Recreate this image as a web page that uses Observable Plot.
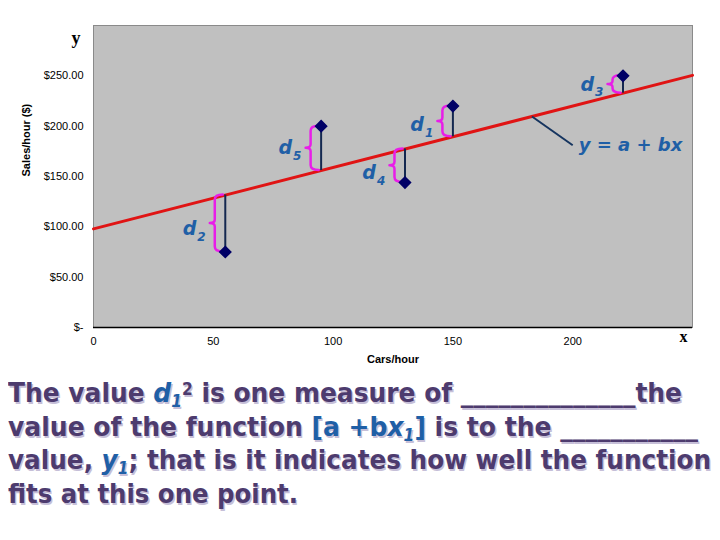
<!DOCTYPE html>
<html>
<head>
<meta charset="utf-8">
<script src="https://cdn.jsdelivr.net/npm/d3@7"></script>
<script src="https://cdn.jsdelivr.net/npm/@observablehq/plot@0.6"></script>
<style>
  html, body { margin: 0; padding: 0; background: #fff; }
  #wrap { position: relative; width: 720px; height: 540px; overflow: hidden; }
  #chart { position: absolute; left: 0; top: 0; }
  #caption { position: absolute; left: 8px; top: 376px; font-family: "DejaVu Sans", Verdana, sans-serif; font-weight: bold; font-size: 27px; color: #4d3b6e; text-shadow: 1.5px 1.5px 0 #c6bfd8; }
  .ln { white-space: nowrap; line-height: 33.5px; height: 33.5px; transform-origin: 0 50%; display: block; width: max-content; }
  .b { color: #1f5fa6; }
  .sb { font-size: 0.62em; position: relative; top: 0.32em; }
  .sp { font-size: 0.62em; position: relative; top: -0.42em; }
</style>
</head>
<body>
<div id="wrap">
  <div id="chart"></div>
  <div id="caption">
    <div class="ln">The value <span class="b"><i>d</i><i class="sb">1</i></span><span class="sp">2</span> is one measure of ______________the</div>
    <div class="ln">value of the function <span class="b">[a +b<i>x</i><i class="sb">1</i>]</span> is to the ___________</div>
    <div class="ln">value, <span class="b"><i>y</i><i class="sb">1</i></span>; that is it indicates how well the function</div>
    <div class="ln">fits at this one point.</div>
  </div>
</div>
<script>
// ---- data ----
const pointIds = ["1", "2", "3", "4", "5"];
const carsPerHour = [150, 55, 221, 130, 95];
const salesPerHour = [220, 75, 250, 144, 200];
const intercept = 98;
const slope = 0.61;
const lineXs = [0, 250];
const xTicks = [0, 50, 100, 150, 200];
const yTicks = [0, 50, 100, 150, 200, 250];
const eqLabel = "y = a + bx";
const eqAnchorX = 183;   // where the leader touches the fitted line
const eqTextAt = [200, 181];

// ---- layout nudges for labels (pixels, downward) ----
const labelDy = [3.5, 5.5, 0, 7, 0];

const pts = carsPerHour.map((x, i) => ({
  id: pointIds[i], x, y: salesPerHour[i], fit: intercept + slope * x, ldy: labelDy[i]
}));
const fitLine = lineXs.map(x => ({x, y: intercept + slope * x}));

const blue = "#1f5fa6";
const magenta = "#e81ee8";
const pxToY = 300 / 302;   // data units per pixel on y
const labelY = d => (d.fit + d.y) / 2 - d.ldy * pxToY;

function braces(index, scales) {
  const g = d3.create("svg:g").attr("fill", "none").attr("stroke", magenta)
    .attr("stroke-width", 2.5).attr("stroke-linecap", "round").attr("stroke-linejoin", "round");
  for (const d of pts) {
    const X = scales.x(d.x);
    const ya = scales.y(d.fit), yb = scales.y(d.y);
    const top = Math.min(ya, yb), bot = Math.max(ya, yb);
    const mid = (top + bot) / 2;
    const v = X - 10, tip = X - 15, end = X - 2;
    const r = Math.min(5, (bot - top) / 4);
    const p = d3.path();
    p.moveTo(end, top);
    p.quadraticCurveTo(v, top, v, top + r);
    p.lineTo(v, mid - r * 0.7);
    p.quadraticCurveTo(v, mid, tip, mid);
    p.quadraticCurveTo(v, mid, v, mid + r * 0.7);
    p.lineTo(v, bot - r);
    p.quadraticCurveTo(v, bot, end, bot);
    g.append("path").attr("d", p.toString());
  }
  return g.node();
}

const chart = Plot.plot({
  width: 720,
  height: 372,
  marginLeft: 93,
  marginRight: 28,
  marginTop: 25,
  marginBottom: 45,
  style: { fontFamily: "'Liberation Sans', Arial, sans-serif", fontSize: "11px", background: "transparent", color: "#000", overflow: "visible" },
  x: { domain: [0, 250], label: null },
  y: { domain: [0, 300], label: null },
  marks: [
    Plot.frame({ fill: "#c0c0c0", stroke: "#8a8a8a" }),
    Plot.ruleY([0], { stroke: "#000", strokeWidth: 1.5 }),
    Plot.axisY({ ticks: yTicks, tickSize: 0, tickPadding: 10, fontSize: 11,
      tickFormat: d => d === 0 ? "$-" : "$" + d.toFixed(2), label: null }),
    Plot.axisX({ ticks: xTicks, tickSize: 0, tickPadding: 10, fontSize: 11, label: null }),
    Plot.line(fitLine, { x: "x", y: "y", stroke: "#e01414", strokeWidth: 3 }),
    Plot.ruleX(pts, { x: "x", y1: "fit", y2: "y", stroke: "#142850", strokeWidth: 2 }),
    braces,
    Plot.dot(pts, { x: "x", y: "y", symbol: "diamond2", fill: "#000066", stroke: "#000066", r: 5 }),
    Plot.text(pts, { x: "x", y: labelY, text: () => "d", textAnchor: "end",
      dx: -29, dy: 0, fill: blue, fontSize: 19, fontWeight: "bold", fontStyle: "italic",
      fontFamily: "'DejaVu Sans', Verdana, sans-serif" }),
    Plot.text(pts, { x: "x", y: labelY, text: "id", textAnchor: "start",
      dx: -28, dy: 8, fill: blue, fontSize: 12, fontWeight: "bold", fontStyle: "italic",
      fontFamily: "'DejaVu Sans', Verdana, sans-serif" }),
    Plot.link([0], { x1: () => eqAnchorX, y1: () => intercept + slope * eqAnchorX,
      x2: () => eqTextAt[0], y2: () => eqTextAt[1], stroke: "#15345f", strokeWidth: 2 }),
    Plot.text([eqLabel], { x: () => eqTextAt[0], y: () => eqTextAt[1], text: d => d, textAnchor: "start",
      dx: 6, dy: 0, fill: blue, fontSize: 18, fontWeight: "bold", fontStyle: "italic",
      fontFamily: "'DejaVu Sans', Verdana, sans-serif" }),
    Plot.text(["Cars/hour"], { frameAnchor: "bottom", text: d => d, dy: 35, fontSize: 11, fontWeight: "bold" }),
    Plot.text(["Sales/hour ($)"], { frameAnchor: "left", text: d => d, rotate: -90, dx: -67, fontSize: 11, fontWeight: "bold" }),
    Plot.text(["y"], { frameAnchor: "top-left", text: d => d, dx: -22, dy: 6, fontSize: 18, fontWeight: "bold",
      fontFamily: "'Liberation Serif', 'Times New Roman', serif" }),
    Plot.text(["x"], { frameAnchor: "bottom-right", text: d => d, dx: -5, dy: 14, fontSize: 16, fontWeight: "bold",
      fontFamily: "'Liberation Serif', 'Times New Roman', serif" })
  ]
});
document.getElementById("chart").appendChild(chart);

// fit caption lines to the reference widths
const targets = [674, 690, 703, 290];
document.querySelectorAll("#caption .ln").forEach((el, i) => {
  const w = el.getBoundingClientRect().width;
  el.style.transform = `scaleX(${targets[i] / w})`;
});
</script>
</body>
</html>
